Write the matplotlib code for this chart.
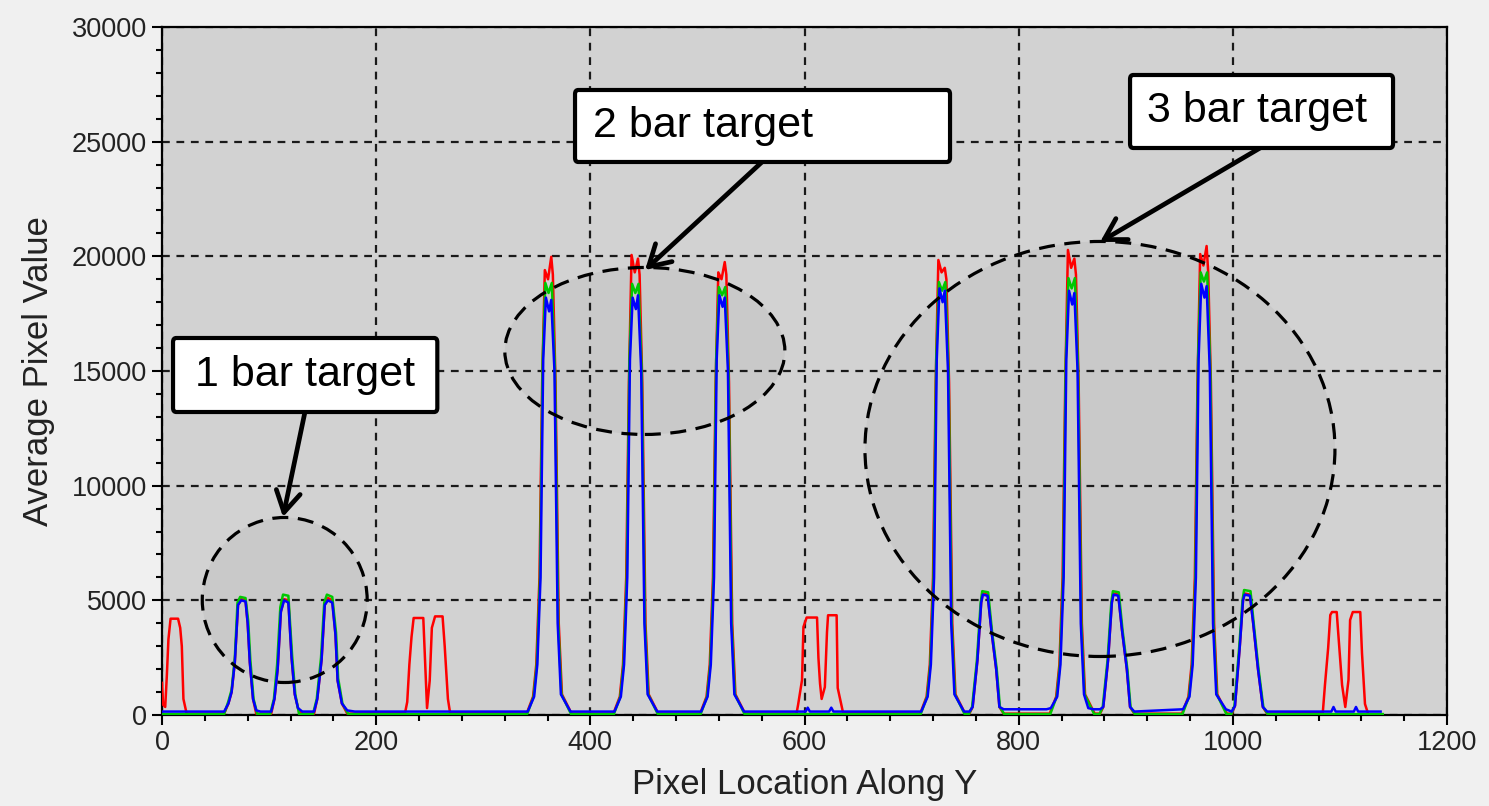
"""
Average pixel value profile along Y for the 1/2/3 bar targets.
"""

import matplotlib.pyplot as plt
from matplotlib.patches import Ellipse, FancyBboxPatch
from matplotlib.ticker import MultipleLocator

plt.rcParams["font.family"] = ["Liberation Sans", "DejaVu Sans"]

# ── Data ──────────────────────────────────────────────────────────────────────
# Breakpoints (x = pixel location, y = average value).

RED_X = [
    0, 1, 3, 4.5, 6, 8, 15, 17, 18.5, 20, 23,
    58, 62, 65, 68, 71, 74, 78, 80, 82, 85, 88,
    102, 105, 108, 111, 114, 118, 121, 124, 127, 131,
    142, 145, 149, 152, 155, 159, 162, 164, 168, 173,
    227, 229, 231, 233, 235, 244, 246, 247.5, 250, 252, 255, 262, 264, 267, 269,
    340.5, 346.5, 349.5, 352.5, 355, 357.5, 360.5, 363.5, 365, 367.5, 370.5, 373.5, 382.5,
    421.5, 427.5, 430.5, 433.5, 436, 438.5, 441.5, 444.5, 446, 448.5, 451.5, 454.5, 463.5,
    502.5, 508.5, 511.5, 514.5, 517, 519.5, 522.5, 525.5, 527, 529.5, 532.5, 535.5, 544.5,
    592.5, 594, 597.7, 599, 602, 611.7, 613, 614.5, 616, 619, 621, 622, 630, 631, 636,
    708, 714, 717, 720, 722.5, 725, 728, 731, 732.5, 735, 738, 741, 750,
    754, 757, 761.5, 765, 766.5, 771, 774.5, 779, 782, 786,
    829, 835, 838, 841, 843.5, 846, 849, 852, 853.5, 856, 859, 862, 871,
    876, 879, 883.5, 887, 888.5, 893, 896.5, 901, 904, 908,
    952.5, 958.5, 961.5, 964.5, 967, 969.5, 972.5, 975.5, 977, 979.5, 982.5, 985.5, 994.5,
    999, 1002, 1006.5, 1009.5, 1011, 1016, 1019, 1023.5, 1028, 1032,
    1084, 1086, 1089, 1091, 1092.6, 1097, 1098, 1102, 1105, 1108, 1109.5, 1112, 1119,
    1120.6, 1123.4, 1126,
]
RED_Y = [
    1400, 450, 350, 1700, 3300, 4200, 4200, 3800, 3000, 700, 60,
    60, 500, 1000, 2300, 4800, 5050, 5000, 4000, 2300, 700, 60,
    60, 700, 2000, 4500, 5050, 5000, 2500, 900, 300, 60,
    60, 700, 2400, 4800, 5100, 5000, 3500, 1500, 500, 60,
    100, 570, 2200, 3400, 4230, 4230, 2000, 300, 1500, 3800, 4300, 4300, 3000, 700, 100,
    60, 800, 2200, 6000, 14500, 19400, 19000, 19980, 19200, 14500, 4000, 900, 60,
    60, 800, 2200, 6000, 14500, 20060, 19300, 19900, 19200, 14500, 4000, 900, 60,
    60, 800, 2200, 6000, 14500, 19300, 19000, 19750, 19200, 14500, 4000, 900, 60,
    60, 440, 1530, 3840, 4250, 4250, 2490, 1370, 700, 1220, 3620, 4350, 4350, 1180, 100,
    60, 800, 2200, 6000, 14500, 19840, 19300, 19500, 19000, 14500, 4000, 900, 60,
    60, 350, 2400, 4900, 5300, 5250, 3700, 2000, 350, 60,
    60, 800, 2200, 6000, 14500, 20280, 19500, 19900, 19200, 14500, 4000, 900, 60,
    60, 350, 2400, 4900, 5300, 5250, 3700, 2000, 350, 60,
    60, 800, 2200, 6000, 14500, 20100, 19600, 20450, 19300, 14500, 4000, 900, 60,
    60, 400, 3000, 5000, 5300, 5250, 4000, 2000, 350, 60,
    100, 1300, 2920, 4360, 4490, 4490, 3840, 1310, 350, 1530, 4140, 4490, 4490,
    2700, 480, 100,
]

GREEN_X = [
    0, 58, 62, 65, 68, 70.5, 73, 78, 80.5, 82.5, 85.5, 89,
    101, 104.5, 107.5, 110.5, 113, 118, 121.5, 124.5, 128,
    141, 144.5, 148.5, 151.5, 154, 159, 162.5, 164.5, 168.5, 174,
    341, 347, 350, 353, 355.5, 358, 361, 364, 367, 370, 373, 382,
    422, 428, 431, 434, 436.5, 439, 442, 445, 448, 451, 454, 463,
    503, 509, 512, 515, 517.5, 520, 523, 526, 529, 532, 535, 544,
    708.5, 714.5, 717.5, 720.5, 723, 725.5, 728.5, 731.5, 734.5, 737.5, 740.5, 749.5,
    753.5, 756.5, 761, 764.5, 766, 771.5, 775, 779.5, 782.5, 786.5,
    829.5, 835.5, 838.5, 841.5, 844, 846.5, 849.5, 852.5, 855.5, 858.5, 861.5, 870.5,
    875.5, 878.5, 883, 886.5, 888, 893.5, 897, 901.5, 904.5, 908.5,
    953, 959, 962, 965, 967.5, 970, 973, 976, 979, 982, 985, 994,
    998.5, 1001.5, 1006, 1009, 1010.5, 1016.5, 1019.5, 1024, 1028.5, 1032.5,
    1140,
]
GREEN_Y = [
    40, 40, 600, 1100, 2500, 4900, 5150, 5100, 4100, 2400, 700, 40,
    40, 700, 2200, 4700, 5250, 5200, 2600, 900, 40,
    40, 700, 2500, 4900, 5250, 5150, 3600, 1600, 500, 40,
    40, 800, 2200, 6000, 15500, 18840, 18400, 18840, 15000, 4000, 900, 40,
    40, 800, 2200, 6000, 15500, 18800, 18400, 18800, 15000, 4000, 900, 40,
    40, 800, 2200, 6000, 15500, 18660, 18300, 18660, 15000, 4000, 900, 40,
    40, 800, 2200, 6000, 15500, 18880, 18500, 18880, 15000, 4000, 900, 40,
    40, 350, 2400, 4900, 5400, 5350, 3700, 2000, 350, 40,
    40, 800, 2200, 6000, 15500, 19050, 18600, 19050, 15000, 4000, 900, 40,
    40, 350, 2400, 4900, 5400, 5350, 3700, 2000, 350, 40,
    40, 800, 2200, 6000, 15500, 19300, 18900, 19300, 15000, 4000, 900, 40,
    40, 400, 3000, 5000, 5450, 5400, 4000, 2000, 350, 40,
    40,
]

BLUE_X = [
    0, 58, 62, 65, 68, 71, 74, 78, 80, 82, 85, 88, 92,
    102, 105, 108, 111, 114, 118, 121, 124, 127, 131,
    142, 145, 149, 152, 155, 159, 162, 164, 168, 173, 180,
    341.5, 347.5, 350.5, 353.5, 356, 358.5, 361.5, 363.5, 366.5, 369.5, 372.5, 381.5,
    422.5, 428.5, 431.5, 434.5, 437, 439.5, 442.5, 444.5, 447.5, 450.5, 453.5, 462.5,
    503.5, 509.5, 512.5, 515.5, 518, 520.5, 523.5, 525.5, 528.5, 531.5, 534.5, 543.5,
    601, 603, 605, 623, 625, 627,
    709, 715, 718, 721, 723.5, 726, 729, 731, 734, 737, 740, 749,
    754, 757, 761.5, 765, 766.5, 771, 774.5, 779, 782, 786,
    826, 830, 836, 839, 842, 844.5, 847, 850, 852, 855, 858, 861, 865, 870,
    876, 879, 883.5, 887, 888.5, 893, 896.5, 901, 904, 908,
    953.5, 959.5, 962.5, 965.5, 968, 970.5, 973.5, 975.5, 978.5, 981.5, 984.5, 993.5,
    999, 1002, 1006.5, 1009.5, 1011, 1016, 1019, 1023.5, 1028, 1032,
    1092, 1094, 1096, 1113, 1115, 1117, 1138,
]
BLUE_Y = [
    150, 150, 500, 1000, 2300, 4800, 5000, 4950, 4000, 2300, 700, 200, 150,
    150, 700, 2000, 4500, 5000, 4900, 2500, 900, 300, 150,
    150, 700, 2400, 4800, 5000, 4900, 3500, 1500, 500, 200, 150,
    150, 800, 2200, 6000, 15500, 18200, 17600, 18100, 15000, 4000, 900, 150,
    150, 800, 2200, 6000, 15500, 18200, 17700, 18300, 15000, 4000, 900, 150,
    150, 800, 2200, 6000, 15500, 18300, 17800, 18200, 15000, 4000, 900, 150,
    150, 320, 150, 150, 320, 150,
    150, 800, 2200, 6000, 15500, 18600, 18000, 18500, 15000, 4000, 900, 150,
    150, 350, 2400, 4900, 5250, 5200, 3700, 2000, 350, 250,
    250, 300, 800, 2200, 6000, 15500, 18500, 17900, 18400, 15000, 4000, 900, 300, 250,
    250, 350, 2400, 4900, 5250, 5200, 3700, 2000, 350, 150,
    250, 800, 2200, 6000, 15500, 18800, 18200, 18700, 15000, 4000, 900, 250,
    150, 400, 3000, 5000, 5250, 5200, 4000, 2000, 350, 150,
    150, 350, 150, 150, 350, 150, 150,
]

SERIES_COLORS = ["#ff0000", "#00c800", "#0000ff"]

LABELS = ["1 bar target", "2 bar target", "3 bar target"]

# ── Plot ──────────────────────────────────────────────────────────────────────

fig = plt.figure(figsize=(14.89, 8.06), dpi=100, facecolor="#f0f0f0")
ax = fig.add_axes([0.1088, 0.1129, 0.8630, 0.8536])
ax.set_facecolor("#d2d2d2")

# dashed ellipses marking each target group (fill under the grid)
ellipses = [
    ((114.6, 5015), 154, 7196),
    ((450.9, 15874), 261.5, 7282),
    ((875.9, 11600), 438.9, 18097),
]
for center, w, h in ellipses:
    ax.add_patch(Ellipse(center, w, h, facecolor="#c9c9c9", edgecolor="none", zorder=0.5))
    ax.add_patch(Ellipse(center, w, h, facecolor="none", edgecolor="black",
                         lw=2.3, linestyle=(0, (5, 3)), zorder=4))

for xs, ys, color in zip([RED_X, GREEN_X, BLUE_X], [RED_Y, GREEN_Y, BLUE_Y], SERIES_COLORS):
    ax.plot(xs, ys, color=color, lw=1.8, zorder=3)

ax.set_xlim(0, 1200)
ax.set_ylim(0, 30000)
ax.xaxis.set_major_locator(MultipleLocator(200))
ax.xaxis.set_minor_locator(MultipleLocator(40))
ax.yaxis.set_major_locator(MultipleLocator(5000))
ax.yaxis.set_minor_locator(MultipleLocator(1000))
ax.set_axisbelow(True)
ax.grid(which="major", color="#1a1a1a", linestyle=(0, (3.5, 3)), lw=1.6, zorder=1)

ax.tick_params(which="major", direction="out", length=7, width=1.5,
               labelsize=19.5, labelcolor="#222222", pad=4)
ax.tick_params(which="minor", direction="out", length=4.5, width=1.5)
for sp in ax.spines.values():
    sp.set_linewidth(1.6)
    sp.set_color("black")

ax.set_xlabel("Pixel Location Along Y", fontsize=25, color="#222222")
ax.set_ylabel("Average Pixel Value", fontsize=25, color="#222222")
ax.xaxis.set_label_coords(0.5, -0.077)
ax.yaxis.set_label_coords(-0.083, 0.5)

# annotation boxes: (box x0, x1, y0, y1), text anchor, arrow start, arrow tip
boxes = [
    ((10.3, 257.1, 13212, 16439), (30.8, 14825), (133.5, 13212), (113, 8634)),
    ((385.7, 735.9, 24114, 27253), (402.5, 25684), (560.3, 24114), (451.1, 19404)),
    ((904.0, 1149.6, 24724, 27907), (919.9, 26316), (1025.4, 24724), (876.0, 20626)),
]
for label, (box, txt, start, tip) in zip(LABELS, boxes):
    x0, x1, y0, y1 = box
    ax.add_patch(FancyBboxPatch((x0, y0), x1 - x0, y1 - y0,
                                boxstyle="round,pad=0,rounding_size=3",
                                mutation_aspect=60,
                                facecolor="white", edgecolor="black", lw=3, zorder=6))
    ax.text(txt[0], txt[1], label, fontsize=31, ha="left", va="center",
            color="black", zorder=7)
    ax.annotate("", xy=tip, xytext=start,
                arrowprops=dict(arrowstyle="->,head_length=0.6,head_width=0.35",
                                mutation_scale=25, lw=3.4, color="black",
                                shrinkA=0, shrinkB=0),
                zorder=5)

fig.savefig("out.png", dpi=100, facecolor=fig.get_facecolor())
